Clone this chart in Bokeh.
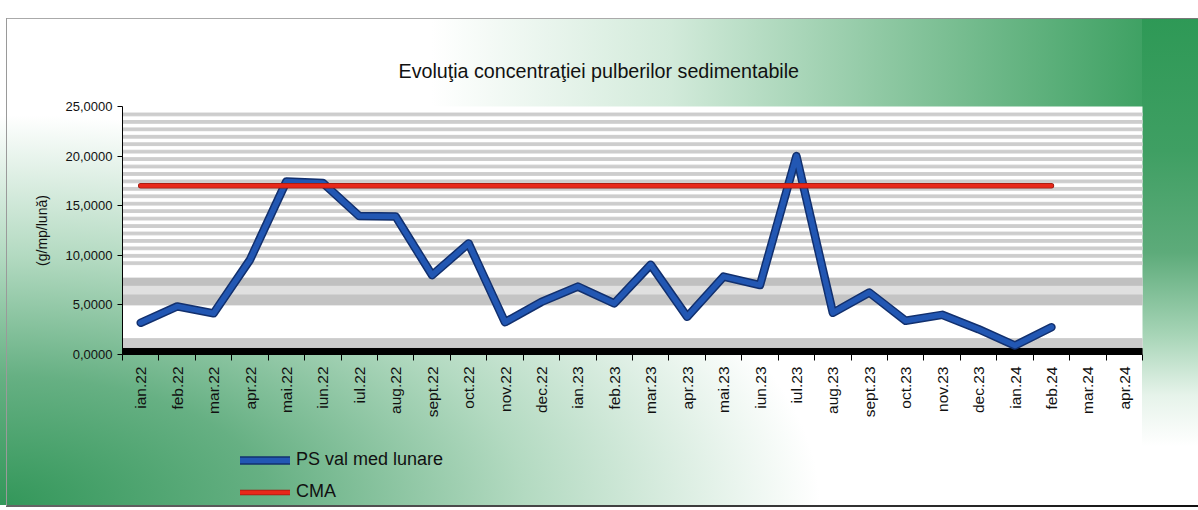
import numpy as np
from bokeh.plotting import figure
from bokeh.layouts import column
from bokeh.models import (Range1d, FixedTicker, CustomJSTickFormatter, Legend, LegendItem,
                          InlineStyleSheet)
from bokeh.embed import file_html
from bokeh.resources import INLINE

# ---------------- data ----------------
months = ["ian.22", "feb.22", "mar.22", "apr.22", "mai.22", "iun.22", "iul.22", "aug.22",
          "sept.22", "oct.22", "nov.22", "dec.22", "ian.23", "feb.23", "mar.23", "apr.23",
          "mai.23", "iun.23", "iul.23", "aug.23", "sept.23", "oct.23", "nov.23", "dec.23",
          "ian.24", "feb.24", "mar.24", "apr.24"]
ps_values = [3.20, 4.85, 4.15, 9.55, 17.45, 17.30, 13.95, 13.90, 8.00, 11.20, 3.25, 5.30,
             6.85, 5.15, 9.05, 3.80, 7.85, 7.00, 20.00, 4.20, 6.25, 3.40, 4.00, 2.55,
             0.90, 2.75]
cma_values = [17.0] * 26
y_ticks = [0, 5, 10, 15, 20, 25]

title_text = "Evoluţia concentraţiei pulberilor sedimentabile"
y_label = "(g/mp/lună)"
legend_ps = "PS val med lunare"
legend_cma = "CMA"

FONT = "Liberation Sans"
BLUE, BLUE_EDGE = "#2257b3", "#12306e"
RED, RED_EDGE = "#e8281a", "#9a1a10"

css = InlineStyleSheet(css="""
:host {
  background:
    linear-gradient(#9a9a9a, #9a9a9a) 6px 18px / 1px 488px no-repeat,
    linear-gradient(to right, #aaaaaa, #aaaaaa 60%, #777777) 6px 18px / 1192px 1px no-repeat,
    linear-gradient(to right, #666666, #333333 70%, #111111) 6px 505px / 1192px 2px no-repeat,
    linear-gradient(to bottom, #2e9956 0%, #3f9f63 26%, #5dab7a 46%, #a6d4b6 62%, #e6f3ea 74%, rgba(255,255,255,0) 84%) right 18px / 56px 100% no-repeat,
    linear-gradient(to right, rgba(255,255,255,0) 0%, rgba(255,255,255,0) 36%, rgba(205,232,214,0.9) 56%, #86c49c 76%, #2e9956 100%) left 19px / 100% 88px no-repeat,
    radial-gradient(ellipse 820px 390px at 0% 100%, #33975a 0%, #66b083 33%, #b3dac1 64%, rgba(255,255,255,0) 100%) 0 0 / 100% 505px no-repeat,
    #ffffff;
}
""")

p = figure(width=1198, height=430, output_backend="svg", toolbar_location=None,
           x_range=Range1d(0, 28), y_range=Range1d(0, 25),
           min_border_left=122, min_border_right=56, min_border_top=106, min_border_bottom=76,
           border_fill_color=None, background_fill_color="white", outline_line_color=None)

p.xgrid.visible = False
p.ygrid.visible = False

# plot-area pattern (decoration)
stripe_y = np.arange(9.2, 24.9, 0.75)
p.hbar(y=stripe_y, height=0.28, left=0, right=28, color="#cdcdcd")
p.hbar(y=[7.3, 6.45, 5.5], height=[0.8, 0.85, 1.0], left=0, right=28,
       color=["#c0c0c0", "#e0e0e0", "#c4c4c4"])
p.hbar(y=[1.1], height=[1.0], left=0, right=28, color="#cbcbcb")
p.hbar(y=[0.33], height=[0.55], left=0, right=28, color="black")

x = [i + 0.5 for i in range(len(ps_values))]
xc = [i + 0.5 for i in range(len(cma_values))]

p.line(x, ps_values, line_color=BLUE_EDGE, line_width=8.5, line_join="round", line_cap="round")
p.line(x, ps_values, line_color=BLUE, line_width=5.5, line_join="round", line_cap="round")
p.line(xc, cma_values, line_color=RED_EDGE, line_width=5.5, line_cap="round")
p.line(xc, cma_values, line_color=RED, line_width=4, line_cap="round")

# axes
p.yaxis.ticker = FixedTicker(ticks=y_ticks)
p.yaxis.formatter = CustomJSTickFormatter(code="return tick.toFixed(4).replace('.', ',');")
p.yaxis.axis_line_color = "black"
p.yaxis.major_tick_line_color = "black"
p.yaxis.major_tick_out = 5
p.yaxis.major_tick_in = 0
p.yaxis.minor_tick_line_color = None
p.yaxis.major_label_text_font = FONT
p.yaxis.major_label_text_font_size = "13px"
p.yaxis.major_label_text_color = "#111111"
p.yaxis.major_label_standoff = 5
p.yaxis.axis_label = y_label
p.yaxis.axis_label_text_font = FONT
p.yaxis.axis_label_text_font_size = "14px"
p.yaxis.axis_label_text_font_style = "normal"
p.yaxis.axis_label_text_color = "#111111"
p.yaxis.axis_label_standoff = 13

p.xaxis.ticker = FixedTicker(ticks=[i + 0.5 for i in range(len(months))],
                             minor_ticks=list(range(len(months) + 1)))
p.xaxis.formatter = CustomJSTickFormatter(args=dict(months=months),
                                          code="return months[Math.floor(tick)];")
p.xaxis.major_label_orientation = np.pi / 2
p.xaxis.axis_line_color = "black"
p.xaxis.major_tick_line_color = None
p.xaxis.minor_tick_line_color = "black"
p.xaxis.minor_tick_out = 6
p.xaxis.minor_tick_in = 0
p.xaxis.major_label_text_font = FONT
p.xaxis.major_label_text_font_size = "15.5px"
p.xaxis.major_label_text_color = "#111111"
p.xaxis.major_label_standoff = 6

# title
p.title.text = title_text
p.title.text_font = FONT
p.title.text_font_size = "19.7px"
p.title.text_font_style = "normal"
p.title.text_color = "#111111"
p.title.align = "left"
p.title.offset = 276
p.title.standoff = 50

# legend strip (separate figure below the chart; its series lie outside its visible range)
pl = figure(width=1198, height=80, output_backend="svg", toolbar_location=None,
            x_range=Range1d(0, 28), y_range=Range1d(100, 101),
            x_axis_type=None, y_axis_type=None,
            min_border_left=0, min_border_right=0, min_border_top=0, min_border_bottom=0,
            border_fill_color=None, background_fill_color=None, outline_line_color=None)
pl.xgrid.visible = False
pl.ygrid.visible = False
l_ps_edge = pl.line(x, ps_values, line_color=BLUE_EDGE, line_width=8.5, line_cap="round")
l_ps = pl.line(x, ps_values, line_color=BLUE, line_width=5.5, line_cap="round")
l_cma_edge = pl.line(xc, cma_values, line_color=RED_EDGE, line_width=5.5, line_cap="round")
l_cma = pl.line(xc, cma_values, line_color=RED, line_width=4, line_cap="round")

legend = Legend(items=[LegendItem(label=legend_ps, renderers=[l_ps_edge, l_ps]),
                       LegendItem(label=legend_cma, renderers=[l_cma_edge, l_cma])],
                location=(118, 8), orientation="vertical",
                glyph_width=50, glyph_height=20, label_standoff=6, spacing=11,
                padding=0, margin=0, border_line_color=None, background_fill_alpha=0,
                label_text_font=FONT, label_text_font_size="18px", label_text_color="#111111")
pl.add_layout(legend, "center")

layout = column(p, pl, spacing=0, stylesheets=[css])

open("out.html", "w").write(file_html(layout, INLINE))
